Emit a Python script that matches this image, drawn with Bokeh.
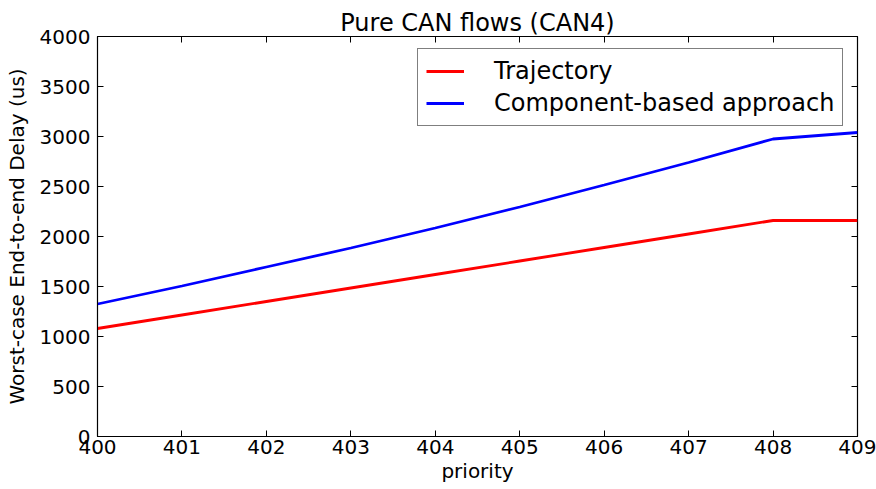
from bokeh.plotting import figure
from bokeh.models import LinearAxis, Legend, LegendItem, FixedTicker, Range1d
from bokeh.embed import file_html
from bokeh.resources import INLINE

priority = [400, 401, 402, 403, 404, 405, 406, 407, 408, 409]
trajectory = [1080, 1215, 1350, 1485, 1620, 1755, 1890, 2025, 2160, 2160]
component = [1325, 1505, 1695, 1885, 2085, 2295, 2515, 2740, 2975, 3040]
x_ticks = list(range(400, 410))
y_ticks = list(range(0, 4001, 500))

FONT = "DejaVu Sans"

p = figure(width=876, height=489, output_backend="svg", toolbar_location=None,
           x_range=Range1d(400, 409), y_range=Range1d(0, 4000),
           min_border_left=97, min_border_right=19, min_border_top=36, min_border_bottom=53,
           x_axis_label="priority", y_axis_label="Worst-case End-to-end Delay (us)")
p.title.text = "Pure CAN flows (CAN4)"
p.title.align = "center"
p.title.text_font = FONT
p.title.text_font_size = "24px"
p.title.text_font_style = "normal"
p.title.text_color = "black"
p.title.offset = 0
p.title.standoff = 0
p.grid.visible = False
p.outline_line_color = "black"
p.outline_line_width = 1.2

for ax in (p.xaxis[0], p.yaxis[0]):
    ax.major_label_text_font = FONT
    ax.major_label_text_font_size = "20px"
    ax.major_label_text_color = "black"
    ax.axis_label_text_font = FONT
    ax.axis_label_text_font_size = "20px"
    ax.axis_label_text_font_style = "normal"
    ax.axis_label_text_color = "black"
    ax.major_tick_in = 6
    ax.major_tick_out = 0
    ax.major_tick_line_color = "black"
    ax.minor_tick_line_color = None
    ax.axis_line_color = "black"
p.xaxis[0].ticker = FixedTicker(ticks=x_ticks)
p.yaxis[0].ticker = FixedTicker(ticks=y_ticks)
p.xaxis[0].major_label_standoff = 3
p.yaxis[0].major_label_standoff = 7
p.xaxis[0].axis_label_standoff = 2
p.yaxis[0].axis_label_standoff = 8

top = LinearAxis(ticker=FixedTicker(ticks=x_ticks), major_label_text_font_size="0px",
                 major_label_text_color=None,
                 major_tick_in=6, major_tick_out=0, minor_tick_line_color=None,
                 major_tick_line_color="black",
                 major_label_standoff=0, axis_line_color=None)
right = LinearAxis(ticker=FixedTicker(ticks=y_ticks), major_label_text_font_size="0px",
                   major_label_text_color=None,
                   major_tick_in=6, major_tick_out=0, minor_tick_line_color=None,
                   major_tick_line_color="black",
                   major_label_standoff=0, axis_line_color=None)
p.add_layout(top, "above")
p.add_layout(right, "right")

r1 = p.line(priority, trajectory, line_color="red", line_width=2.8)
r2 = p.line(priority, component, line_color="blue", line_width=2.8)

legend = Legend(items=[LegendItem(label="Trajectory", renderers=[r1]),
                       LegendItem(label="Component-based approach", renderers=[r2])],
                location=(320, 310))
legend.label_text_font = FONT
legend.label_text_font_size = "24px"
legend.label_text_color = "black"
legend.glyph_width = 38
legend.glyph_height = 24
legend.label_standoff = 30
legend.label_height = 24
legend.padding = 8
legend.spacing = 4
legend.margin = 0
legend.border_line_color = "black"
legend.border_line_width = 1.2
legend.background_fill_alpha = 1
p.add_layout(legend, "center")

open("out.html", "w").write(file_html(p, INLINE))
